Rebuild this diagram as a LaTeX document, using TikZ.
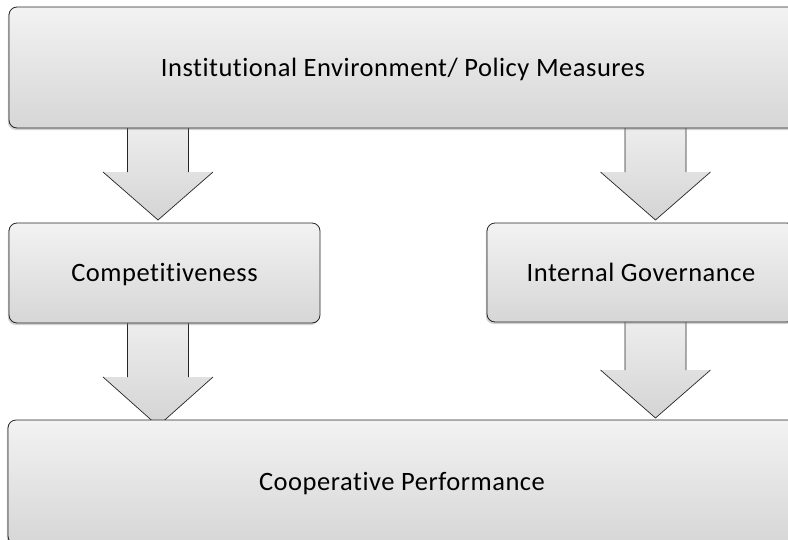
\documentclass[tikz,border=0pt]{standalone}
\usepackage{fontspec}
\setmainfont{Carlito}
\newfontfamily\boxfont[LetterSpace=2, Ligatures=NoCommon]{Carlito}
\usetikzlibrary{shadows}

\tikzset{
  box/.style={rounded corners=8pt, draw=black!85, line width=0.8pt,
    top color=gray!10, bottom color=gray!32,
    font=\boxfont\fontsize{26.5}{30}\selectfont,
    text height=17pt, text depth=0pt,
    inner sep=0pt, outer sep=0pt,
    drop shadow={shadow xshift=-1.2pt, shadow yshift=-2pt, opacity=0.35, fill=gray}},
  arrowfill/.style={top color=gray!14, bottom color=gray!34, draw=none},
  arrowedge/.style={draw=black!85, line width=0.7pt, line join=miter}
}

% block arrow: #1 centre x, #2 top y, #3 shoulder y, #4 tip y
\newcommand{\blockarrow}[4]{%
  \path[arrowfill] (#1-30.5,#2) -- (#1-30.5,#3) -- (#1-55,#3) -- (#1,#4)
    -- (#1+55,#3) -- (#1+30.5,#3) -- (#1+30.5,#2) -- cycle;
  \draw[arrowedge] (#1-30.5,#2) -- (#1-30.5,#3)
    (#1-55,#3) -- (#1,#4) -- (#1+55,#3)
    (#1+30.5,#3) -- (#1+30.5,#2);
}

\begin{document}
\begin{tikzpicture}[x=1pt, y=-1pt]
  \clip (0,0) rectangle (788,539);
  \fill[white] (0,0) rectangle (788,539);

  % connecting block arrows
  \blockarrow{158}{128}{172}{220}
  \blockarrow{655.5}{128}{172}{220}
  \blockarrow{158}{323}{377}{426}
  \blockarrow{655.5}{322}{370}{418}

  % boxes
  \node[box, minimum width=788pt, minimum height=121pt] (policy) at (403,67.5)
    {Institutional Environment/ Policy Measures};
  \node[box, minimum width=311pt, minimum height=100pt] (comp) at (164.5,273)
    {Competitiveness};
  \node[box, minimum width=308pt, minimum height=99pt] (gov) at (641,272.5)
    {Internal Governance};
  \node[box, minimum width=788pt, minimum height=124pt] (perf) at (402,482)
    {Cooperative Performance};
\end{tikzpicture}
\end{document}
